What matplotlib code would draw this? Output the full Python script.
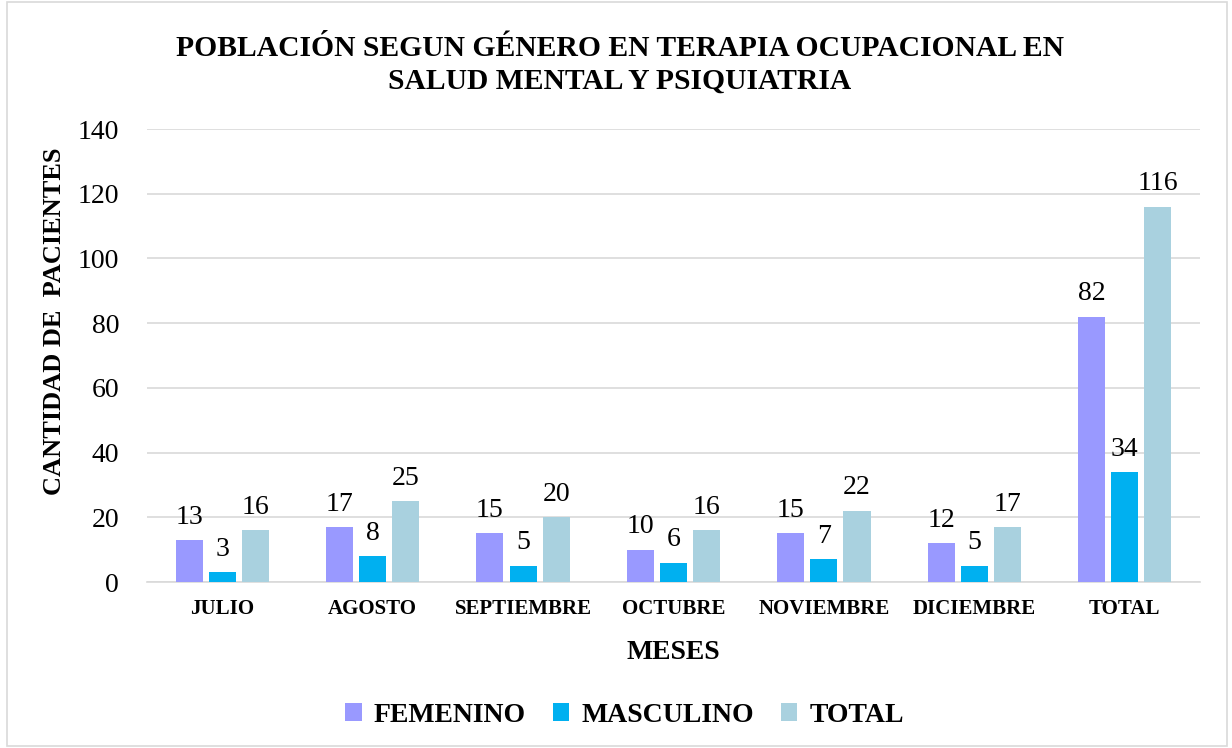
import numpy as np
import matplotlib.pyplot as plt
from matplotlib.patches import Rectangle

plt.rcParams['font.family'] = ['Liberation Serif', 'DejaVu Serif']

meses = ['JULIO', 'AGOSTO', 'SEPTIEMBRE', 'OCTUBRE', 'NOVIEMBRE', 'DICIEMBRE', 'TOTAL']
femenino = [13, 17, 15, 10, 15, 12, 82]
masculino = [3, 8, 5, 6, 7, 5, 34]
total = [16, 25, 20, 16, 22, 17, 116]

series = [('FEMENINO', femenino, '#9999FF'),
          ('MASCULINO', masculino, '#00B0F0'),
          ('TOTAL', total, '#A9D1DF')]

fig = plt.figure(figsize=(12.32, 7.48), dpi=100)
ax = fig.add_axes([0.1193, 0.2219, 0.8547, 0.6056])

x = np.arange(len(meses))
w = 0.18
step = 0.22
for i, (name, vals, col) in enumerate(series):
    pos = x + (i - 1) * step
    bars = ax.bar(pos, vals, w, color=col, label=name, zorder=3)
    for b, v in zip(bars, vals):
        ax.text(b.get_x() + b.get_width() / 2, v + 3.2, str(v),
                ha='center', va='bottom', fontsize=20)

ax.set_xlim(-0.5, len(meses) - 0.5)
ax.set_ylim(0, 140)
ax.set_yticks(range(0, 141, 20))
ax.set_xticks(x)
ax.set_xticklabels(meses, fontsize=15, fontweight='bold')
ax.tick_params(axis='y', labelsize=20, length=0, pad=20)
ax.tick_params(axis='x', length=0, pad=12)
ax.grid(axis='y', color='#D9D9D9', linewidth=1.2, zorder=0)
for s in ['top', 'right', 'left']:
    ax.spines[s].set_visible(False)
ax.spines['bottom'].set_color('#D9D9D9')
ax.spines['bottom'].set_linewidth(1.2)

ax.set_xlabel('MESES', fontsize=20, fontweight='bold', labelpad=15)
ax.set_ylabel('CANTIDAD DE  PACIENTES', fontsize=19, fontweight='bold')
ax.yaxis.set_label_coords(-0.077, 0.576)

fig.suptitle('POBLACIÓN SEGUN GÉNERO EN TERAPIA OCUPACIONAL EN\nSALUD MENTAL Y PSIQUIATRIA',
             x=0.503, y=0.953, fontsize=21.3, fontweight='bold', linespacing=1.25)

leg = fig.legend(loc='center', bbox_to_anchor=(0.507, 0.044), ncol=3, frameon=False,
                 prop={'size': 20, 'weight': 'bold'}, handlelength=0.6, handleheight=0.6,
                 columnspacing=0.95, handletextpad=0.45)

fig.patches.append(Rectangle((0.006, 0.003), 0.99, 0.994, transform=fig.transFigure,
                             fill=False, edgecolor='#D9D9D9', linewidth=1.2))

fig.savefig('out.png', dpi=100)
